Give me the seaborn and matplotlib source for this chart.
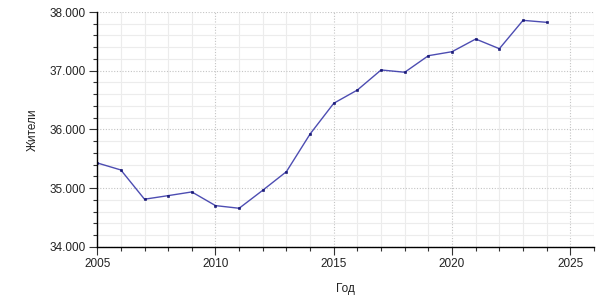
import matplotlib
matplotlib.use("Agg")
import matplotlib.pyplot as plt
import matplotlib.ticker as mticker
import seaborn as sns
import pandas as pd

years = [2005, 2006, 2007, 2008, 2009, 2010, 2011, 2012, 2013, 2014,
         2015, 2016, 2017, 2018, 2019, 2020, 2021, 2022, 2023, 2024]
residents = [35430, 35310, 34812, 34873, 34936, 34703, 34658, 34965, 35282, 35923,
             36446, 36672, 37013, 36974, 37256, 37324, 37540, 37375, 37858, 37824]
x_label = "Год"
y_label = "Жители"

df = pd.DataFrame({"year": years, "residents": residents})

sns.set_style("white")
plt.rcParams['font.family'] = ['Liberation Sans', 'DejaVu Sans']

fig, ax = plt.subplots(figsize=(6, 3), dpi=100)
fig.subplots_adjust(left=0.162, right=0.99, top=0.96, bottom=0.177)

sns.lineplot(data=df, x="year", y="residents", ax=ax, color="#3a3aaa",
             linewidth=1.0, alpha=0.9, marker="s", markersize=1.4,
             markerfacecolor="#101070", markeredgecolor="#101070", markeredgewidth=0.5)

ax.set_xlim(2005, 2026)
ax.set_ylim(34000, 38000)
ax.xaxis.set_major_locator(mticker.MultipleLocator(5))
ax.xaxis.set_minor_locator(mticker.MultipleLocator(1))
ax.yaxis.set_major_locator(mticker.MultipleLocator(1000))
ax.yaxis.set_minor_locator(mticker.MultipleLocator(200))
ax.yaxis.set_major_formatter(mticker.FuncFormatter(lambda v, p: f"{int(v):,}".replace(",", ".")))

ax.grid(which="minor", color="#ececec", linewidth=0.8, linestyle="-")
ax.grid(which="major", color="#c4c4c4", linewidth=0.8, linestyle=(0, (1, 1.5)))
ax.set_axisbelow(True)

for s in ["top", "right"]:
    ax.spines[s].set_visible(False)
for s in ["left", "bottom"]:
    ax.spines[s].set_color("black")
    ax.spines[s].set_linewidth(1.0)

ax.tick_params(which="major", direction="out", length=6, width=0.8, color="#333333",
               labelsize=8.5, labelcolor="#222222", left=True, bottom=True, pad=2)
ax.tick_params(which="minor", direction="out", length=3, width=0.8, color="#333333",
               left=True, bottom=True)

ax.set_xlabel(x_label, fontsize=8.5, color="#222222", labelpad=9)
ax.set_ylabel(y_label, fontsize=8.5, color="#222222", labelpad=8)

fig.savefig("out.png", dpi=100)
